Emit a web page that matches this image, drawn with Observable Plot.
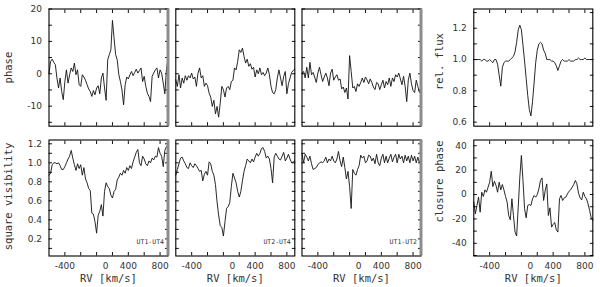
<!DOCTYPE html>
<html><head><meta charset="utf-8">
<script src="https://cdn.jsdelivr.net/npm/d3@7"></script>
<script src="https://cdn.jsdelivr.net/npm/@observablehq/plot@0.6"></script>
<style>
html,body{margin:0;padding:0;background:#fff;}
#chart{position:relative;width:600px;height:287px;overflow:hidden;background:#fff;}
#chart svg{position:absolute;left:0;top:0;}
</style></head><body><div id="chart"></div>
<script>
// radial velocity grid (km/s)
const RV = [-600,-580,-560,-540,-520,-500,-480,-460,-440,-420,-400,-380,-360,-340,-320,-300,-280,-260,-240,-220,
  -200,-180,-160,-140,-120,-100,-80,-60,-40,-20,0,20,40,60,80,100,120,140,160,180,
  200,220,240,260,280,300,320,340,360,380,400,420,440,460,480,500,520,540,560,580,
  600,620,640,660,680,700,720,740,760,780,800,820,840,860,880,900];

// differential phase (deg) per baseline
const phaseUT14 = [0.2,3.8,4.5,3.5,2.8,-1.3,-4.4,-1.3,-5.5,-8,
  -2.4,1.2,-2.9,-0.3,1.8,0.7,3.3,-0.3,1.2,-3.4,
  -3.9,-0.3,-1,-2,-3.4,-4.7,-5.5,-7,-5.2,-6.5,
  -4.4,-3.7,-6.2,-1.3,0.2,-4.4,-8.2,4.3,5.9,7.4,
  16.5,11,5.9,4.3,-0.3,-2.4,-5,-9.6,-3.4,-1,
  -1.6,-0.3,0.7,-0.6,0.4,1.4,0.2,1,1.8,-2.4,
  -0.8,-3.9,-6,-7,-8.6,-0.8,0.2,1.2,1.8,-1.3,
  1.2,0.2,-2.9,-6.2,1.2,4.8];
const phaseUT24 = [-1.9,-3.9,-0.3,-4.4,-1.3,-2.9,-0.6,-2,-0.6,-1.3,
  0.2,-1.6,-1,-3.9,0.2,1.8,-1.3,-0.6,-3.9,-2.9,
  -3.7,-6,-7.2,-10.1,-8.2,-12.4,-10.1,-13.4,-9.1,-3.9,
  -4.9,-7.2,-4.4,-3.9,-4.9,-2.4,-2,1.8,1.2,3.8,
  7.4,6.6,7.9,5.4,3.3,4.5,2.3,3.1,1.4,2,
  -1,1.2,0,1.8,-0.3,0.4,-0.6,0.2,1.8,-0.3,
  -3.9,-5.8,-6.2,-4.9,-1.3,1.2,-1.3,-3.7,-0.8,0.7,
  -6.2,-3.1,-1.3,0.4,1,1.4];
const phaseUT12 = [0.2,0.7,-1.3,2,-1.3,3.5,-0.3,0.4,-1,-2.7,
  0.2,2,-0.3,-2.4,-1,0.2,-1.3,-3.7,0.2,1.4,
  -2,-1,-0.3,-2,-1.6,-4.7,-4.1,-5.8,-4.4,-7.8,
  5.6,0.7,-4.4,-3.9,-5.5,-3.1,-3.9,-2.7,-1.3,-2.7,
  -1,-1.9,-3.1,-1.6,-2.7,-4.1,-4.9,-2.7,-3.1,-4.9,
  -3.4,-2,-4.4,-2.4,-3.4,-1.3,-3.9,-1.3,-2.4,-0.3,
  -1,0.2,-1.6,-3.4,-0.8,-3.9,-8.6,-1.9,0.2,-3.1,
  -5.2,-5.8,-2,-3.9,-5.8,-4.4];

// squared visibility per baseline
const visUT14 = [0.87,0.89,0.98,1.0,1.0,0.99,1.0,0.97,0.93,0.93,
  0.96,1.0,1.04,1.07,1.13,1.05,0.98,0.92,0.99,0.94,
  0.98,0.87,0.95,0.83,0.79,0.73,0.71,0.47,0.46,0.38,
  0.26,0.45,0.49,0.56,0.44,0.70,0.79,0.75,0.73,0.66,
  0.63,0.7,0.72,0.82,0.85,0.89,0.87,0.92,0.89,0.95,
  0.92,0.97,0.94,1.01,1.06,1.11,1.14,1.0,0.97,1.07,
  1.04,0.99,0.97,1.02,1.0,1.05,1.03,1.07,1.06,1.16,
  1.1,1.07,0.96,1.13,1.17,1.19];
const visUT24 = [0.87,0.93,0.99,1.05,1.06,1.02,0.99,0.95,0.94,1.0,
  0.97,0.95,0.99,0.97,0.94,0.91,0.92,0.81,0.88,0.91,
  0.87,1.01,0.99,0.91,0.87,0.77,0.59,0.45,0.34,0.32,
  0.23,0.38,0.52,0.54,0.58,0.75,0.89,0.84,0.79,0.7,
  0.64,0.7,0.81,0.91,0.97,1.04,1.02,1.0,1.04,1.01,
  1.06,1.1,1.07,1.1,1.15,1.16,1.12,1.05,1.07,1.04,
  0.94,0.79,1.06,1.1,1.07,1.04,1.03,1.07,1.11,1.02,
  1.05,1.09,1.04,1.0,1.01,1.02];
const visUT12 = [1.1,1.0,1.09,1.06,1.02,1.07,0.99,0.93,0.94,0.95,
  0.98,1.0,1.01,1.0,1.02,1.06,1.0,1.04,1.02,1.07,
  1.02,1.0,1.04,1.12,1.02,0.96,1.06,0.95,0.83,0.91,
  0.75,0.52,0.93,0.89,0.87,0.93,0.97,1.08,1.05,1.07,
  1.0,1.02,1.08,1.07,1.02,1.05,0.99,1.09,1.0,0.97,
  1.05,1.09,1.0,1.07,1.0,1.05,1.09,1.01,1.06,1.09,
  1.0,1.09,1.04,1.07,1.0,1.08,1.02,1.07,1.0,1.08,
  1.02,1.07,1.0,1.06,1.0,1.05];

// normalised flux and closure phase
const relFlux = [1.0,1.0,1.0,1.0,1.0,0.99,1.0,1.0,0.99,0.99,
  1.0,0.99,0.98,1.0,1.0,0.97,0.9,0.83,0.95,0.98,
  0.99,0.99,0.99,1.0,1.01,1.02,1.05,1.11,1.19,1.22,
  1.19,1.09,0.99,0.88,0.77,0.68,0.64,0.73,0.85,0.98,
  1.06,1.1,1.11,1.1,1.06,1.04,1.0,1.0,1.0,0.99,
  0.99,0.98,0.96,0.93,0.96,0.99,1.0,0.99,0.99,0.99,
  1.0,0.99,0.99,0.99,1.0,1.0,1.01,1.0,1.0,1.0,
  1.01,1.0,1.0,1.0,1.0,1.0];
const closurePhase = [-6.3,-15.8,-9,-2.2,-14.5,1.9,-1.6,3.8,1.9,6,
  10.1,19.1,6.5,10.9,7.4,1.9,10.1,3.8,8.2,3.8,
  -1.6,-6.3,-17.2,-20.7,-3.5,-17.2,-30.8,-34,-10.4,14.2,
  32,11.5,-11.7,-19.1,-9,-8.2,-9,-3.5,-0.8,-2.2,
  0,4.6,11.5,13.6,-4.9,3.3,8.7,-17.2,-10.9,-26.7,
  -24.6,-22.9,-28.9,-30.8,-3.5,-0.8,-4.9,-2.7,-2.2,0.5,
  2.7,3.8,6,8.2,11.5,8.7,1.1,-2.7,-4.4,1.9,
  -1.6,-3.5,-7.6,-13.1,-19.1,-21.3];

// ticks and labels
const rvDomain = [-600, 900];
const rvTicks = [-400,-200,0,200,400,600,800];
const rvLabels = [-400, 400, 800];
const rvZeroLabel = [0];
const phaseDomain = [-16.2, 20];
const phaseTicks = [-15,-10,-5,0,5,10,15,20];
const phaseLabels = [-10,0,10,20];
const visDomain = [0.02, 1.24];
const visTicks = [0.1,0.2,0.3,0.4,0.5,0.6,0.7,0.8,0.9,1.0,1.1,1.2];
const visLabels = [0.2,0.4,0.6,0.8,1.0,1.2];
const fluxDomain = [0.574, 1.323];
const fluxTicks = [0.6,0.7,0.8,0.9,1.0,1.1,1.2,1.3];
const fluxLabels = [0.6,0.8,1.0,1.2];
const cpDomain = [-50.4, 44.7];
const cpTicks = [-50,-40,-30,-20,-10,0,10,20,30,40];
const cpLabels = [-40,-20,0,20,40];
const baselines = ["UT1-UT4","UT2-UT4","UT1-UT2"];

const W = 600, H = 287;
const colX = [48.5, 175.3, 301.5, 473.3], colW = 119;
const rowY = [[8.5, 125.7], [139.5, 255.5]];
const TXT = "#333";
const MONO = "DejaVu Sans Mono";

function panel(o) {
  const left = colX[o.col], right = W - (left + colW);
  const top = rowY[o.row][0], bottom = H - rowY[o.row][1];
  const marks = [];
  const empty = () => "";
  marks.push(Plot.axisX({ticks: rvTicks, anchor: "bottom", tickSize: -3.5, tickFormat: empty, label: null}));
  marks.push(Plot.axisX({ticks: rvTicks, anchor: "top", tickSize: -3.5, tickFormat: empty, label: null}));
  marks.push(Plot.axisY({ticks: o.yTicks, anchor: "left", tickSize: -3.5, tickFormat: empty, label: null}));
  marks.push(Plot.axisY({ticks: o.yTicks, anchor: "right", tickSize: -3.5, tickFormat: empty, label: null}));
  if (o.yLabels) {
    marks.push(Plot.axisY({ticks: o.yLabels, anchor: "left", tickSize: 0, tickPadding: 7, tickFormat: o.yFormat,
      label: null, fontSize: 9, fill: TXT}));
  }
  if (o.row === 1) {
    marks.push(Plot.axisX({ticks: rvLabels, anchor: "bottom", tickSize: 0, tickPadding: 6.5, tickFormat: d => String(d),
      label: null, fontSize: 9, fill: TXT}));
    marks.push(Plot.axisX({ticks: rvZeroLabel, anchor: "bottom", tickSize: 0, tickPadding: 6.5, tickFormat: d => String(d),
      label: null, fontSize: 9, fill: TXT, dx: 9}));
    marks.push(Plot.text(["RV [km/s]"], {frameAnchor: "bottom", textAnchor: "middle", dy: 25.5,
      fontFamily: MONO, fontSize: 10.5, fill: TXT}));
  }
  if (o.ylabel) {
    marks.push(Plot.text([o.ylabel], {frameAnchor: "left", textAnchor: "middle", lineAnchor: "middle", rotate: -90,
      dx: o.ylabelDx, dy: o.ylabelDy, fontFamily: MONO, fontSize: 10.5, fill: TXT}));
  }
  if (o.tag) {
    marks.push(Plot.text([o.tag], {frameAnchor: "bottom-right", textAnchor: "end", lineAnchor: "bottom",
      dx: -4, dy: -12, fontFamily: MONO, fontSize: 6.5, fill: TXT}));
  }
  marks.push(Plot.lineY(o.values, {x: RV, stroke: "#111", strokeWidth: 0.9}));
  marks.push(Plot.frame({stroke: "#000", strokeWidth: 1.1}));
  if (o.grayEdge) marks.push(Plot.ruleX([rvDomain[1]], {stroke: "#8c8c8c", strokeWidth: 3}));
  return Plot.plot({
    width: W, height: H,
    marginLeft: left, marginRight: right, marginTop: top, marginBottom: bottom,
    x: {domain: rvDomain, label: null},
    y: {domain: o.yDomain, label: null},
    style: {background: "transparent", overflow: "visible", fontFamily: "DejaVu Sans", fontSize: "9px", color: "#111"},
    marks
  });
}

const fmt0 = d => String(d);
const fmt1 = d => d.toFixed(1);
const panels = [
  {col: 0, row: 0, values: phaseUT14, yDomain: phaseDomain, yTicks: phaseTicks, yLabels: phaseLabels, yFormat: fmt0,
   ylabel: "phase", ylabelDx: -40.5, ylabelDy: 0, grayEdge: true},
  {col: 1, row: 0, values: phaseUT24, yDomain: phaseDomain, yTicks: phaseTicks},
  {col: 2, row: 0, values: phaseUT12, yDomain: phaseDomain, yTicks: phaseTicks, grayEdge: true},
  {col: 3, row: 0, values: relFlux, yDomain: fluxDomain, yTicks: fluxTicks, yLabels: fluxLabels, yFormat: fmt1,
   ylabel: "rel. flux", ylabelDx: -34.3, ylabelDy: -6},
  {col: 0, row: 1, values: visUT14, yDomain: visDomain, yTicks: visTicks, yLabels: visLabels, yFormat: fmt1,
   ylabel: "square visibility", ylabelDx: -40.5, ylabelDy: -1.5, tag: baselines[0], grayEdge: true},
  {col: 1, row: 1, values: visUT24, yDomain: visDomain, yTicks: visTicks, tag: baselines[1]},
  {col: 2, row: 1, values: visUT12, yDomain: visDomain, yTicks: visTicks, tag: baselines[2], grayEdge: true},
  {col: 3, row: 1, values: closurePhase, yDomain: cpDomain, yTicks: cpTicks, yLabels: cpLabels, yFormat: fmt0,
   ylabel: "closure phase", ylabelDx: -34.3, ylabelDy: -16.5}
];
const root = document.getElementById("chart");
for (const p of panels) root.appendChild(panel(p));
</script></body></html>
